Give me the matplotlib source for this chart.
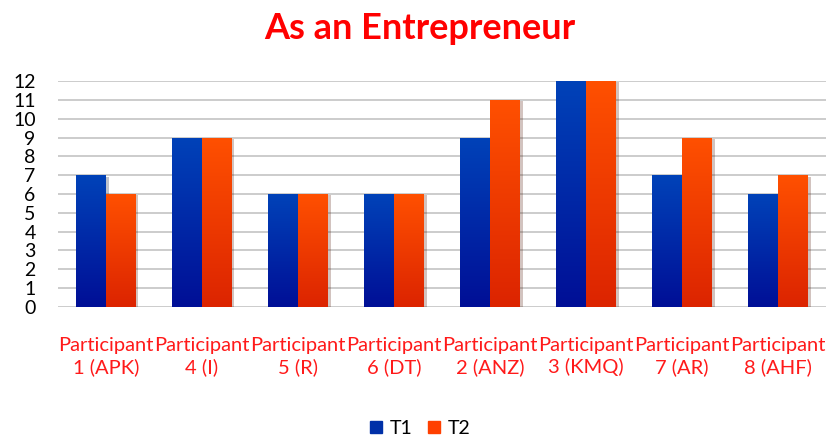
import numpy as np
import matplotlib.pyplot as plt
import matplotlib.patheffects as pe
from matplotlib.colors import LinearSegmentedColormap

participants = ["Participant\n1 (APK)", "Participant\n4 (I)", "Participant\n5 (R)",
                "Participant\n6 (DT)", "Participant\n2 (ANZ)", "Participant\n3 (KMQ)",
                "Participant\n7 (AR)", "Participant\n8 (AHF)"]
t1 = [7, 9, 6, 6, 9, 12, 7, 6]
t2 = [6, 9, 6, 6, 11, 12, 9, 7]

plt.rcParams['font.family'] = ['Lato', 'DejaVu Sans']

fig = plt.figure(figsize=(8.27, 4.36), dpi=100)
ax = fig.add_axes([0.07, 0.296, 0.929, 0.518])

x = np.arange(len(participants))
w = 0.31

blue_cmap = LinearSegmentedColormap.from_list("b", ["#000f96", "#0042b8"])
red_cmap = LinearSegmentedColormap.from_list("r", ["#dc2400", "#ff5000"])

bars1 = ax.bar(x - w / 2, t1, w, color="#0030a8", label="T1", zorder=3)
bars2 = ax.bar(x + w / 2, t2, w, color="#ff4000", label="T2", zorder=3)

# gradient fill inside each bar
grad = np.linspace(0, 1, 100).reshape(-1, 1)
for bars, cm in [(bars1, blue_cmap), (bars2, red_cmap)]:
    for b in bars:
        b.set_path_effects([pe.SimplePatchShadow(offset=(2, -1), alpha=0.25), pe.Normal()])
        x0, y0 = b.get_x(), b.get_y()
        im = ax.imshow(grad, cmap=cm, origin="lower", aspect="auto",
                       extent=[x0, x0 + b.get_width(), y0, y0 + b.get_height()], zorder=4)
        im.set_clip_path(b)

ax.set_xlim(-0.5, 7.5)
ax.set_ylim(0, 12)
ax.set_yticks(range(0, 13))
ax.tick_params(axis="y", labelsize=14, length=0, pad=16)
ax.set_xticks(x)
ax.set_xticklabels(participants, color="#ff1a1a", fontsize=14.5, linespacing=1.25)
ax.tick_params(axis="x", length=0, pad=22)

ax.grid(axis="y", color="#c8c8c8", linewidth=1.3, zorder=0)
for s in ax.spines.values():
    s.set_visible(False)

fig.text(0.508, 0.935, "As an Entrepreneur", color="#ff0000", fontsize=26,
         fontweight="bold", ha="center", va="center")

handles = [plt.Rectangle((0, 0), 1, 1, color="#0030a8"), plt.Rectangle((0, 0), 1, 1, color="#ff4000")]
fig.legend(handles, ["T1", "T2"], loc="center", bbox_to_anchor=(0.508, 0.018),
           ncol=2, frameon=False, fontsize=14, handlelength=0.6, handleheight=0.6,
           handletextpad=0.4, columnspacing=0.8)

plt.savefig("out.png")
